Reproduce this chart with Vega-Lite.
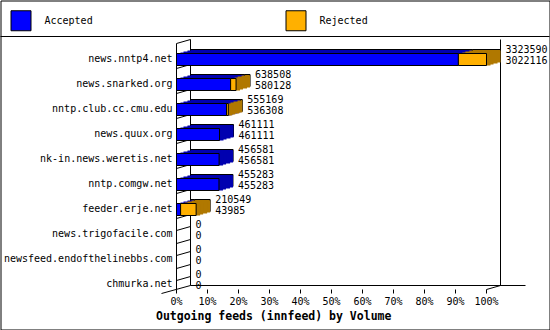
{
  "$schema": "https://vega.github.io/schema/vega-lite/v6.json",
  "width": 549,
  "height": 329,
  "autosize": {"type": "none"},
  "padding": {"left": 0.5, "top": 0.5, "right": 0.5, "bottom": 0.5},
  "background": "white",
  "config": {"font": "DejaVu Sans Mono", "view": {"stroke": "black", "strokeWidth": 1}},
  "resolve": {"axis": {"x": "independent", "y": "independent"}},
  "data": {
    "values": [
      {"host": "news.nntp4.net", "total": 3323590, "accepted": 3022116},
      {"host": "news.snarked.org", "total": 638508, "accepted": 580128},
      {"host": "nntp.club.cc.cmu.edu", "total": 555169, "accepted": 536308},
      {"host": "news.quux.org", "total": 461111, "accepted": 461111},
      {"host": "nk-in.news.weretis.net", "total": 456581, "accepted": 456581},
      {"host": "nntp.comgw.net", "total": 455283, "accepted": 455283},
      {"host": "feeder.erje.net", "total": 210549, "accepted": 43985},
      {"host": "news.trigofacile.com", "total": 0, "accepted": 0},
      {"host": "newsfeed.endofthelinebbs.com", "total": 0, "accepted": 0},
      {"host": "chmurka.net", "total": 0, "accepted": 0}
    ]
  },
  "layer": [
    {
      "mark": {"type": "rule", "color": "black", "strokeWidth": 1, "yOffset": -16, "y2Offset": -20, "x2Offset": 14},
      "encoding": {
        "x": {"datum": 0, "type": "quantitative", "axis": null},
        "x2": {"datum": 0},
        "y": {"field": "host", "type": "nominal", "axis": null},
        "y2": {"field": "host"}
      }
    },
    {
      "mark": {"type": "rule", "color": "black", "strokeWidth": 1, "yOffset": -4, "y2Offset": -8, "x2Offset": 14},
      "encoding": {
        "x": {"datum": 0, "type": "quantitative", "axis": null},
        "x2": {"datum": 0},
        "y": {"field": "host", "type": "nominal", "axis": null},
        "y2": {"field": "host"}
      }
    },
    {
      "data": {"values": [{}]},
      "mark": {"type": "rule", "color": "black", "strokeWidth": 1, "yOffset": -16, "y2Offset": 5},
      "encoding": {
        "x": {"datum": 0, "type": "quantitative", "axis": null},
        "y": {"datum": "news.nntp4.net", "type": "nominal", "axis": null},
        "y2": {"datum": "chmurka.net"}
      }
    },
    {
      "data": {"values": [{}]},
      "mark": {"type": "rule", "color": "black", "strokeWidth": 1, "xOffset": 14, "yOffset": -20, "y2Offset": 1},
      "encoding": {
        "x": {"datum": 0, "type": "quantitative", "axis": null},
        "y": {"datum": "news.nntp4.net", "type": "nominal", "axis": null},
        "y2": {"datum": "chmurka.net"}
      }
    },
    {
      "data": {"values": [{}]},
      "mark": {"type": "rule", "color": "black", "strokeWidth": 1, "xOffset": 14, "yOffset": -20, "y2Offset": 1},
      "encoding": {
        "x": {"datum": 3323590, "type": "quantitative", "axis": null},
        "y": {"datum": "news.nntp4.net", "type": "nominal", "axis": null},
        "y2": {"datum": "chmurka.net"}
      }
    },
    {
      "data": {"values": [{}]},
      "mark": {"type": "rule", "color": "black", "strokeWidth": 1, "xOffset": 14, "x2Offset": 39, "yOffset": 1},
      "encoding": {
        "x": {"datum": 0, "type": "quantitative", "axis": null},
        "x2": {"datum": 3323590},
        "y": {"datum": "chmurka.net", "type": "nominal", "axis": null}
      }
    },
    {
      "data": {"values": [{}]},
      "mark": {"type": "rule", "color": "black", "strokeWidth": 1, "xOffset": -15, "x2Offset": 14, "yOffset": 9, "y2Offset": 1},
      "encoding": {
        "x": {"datum": 0, "type": "quantitative", "axis": null},
        "x2": {"datum": 0},
        "y": {"datum": "chmurka.net", "type": "nominal", "axis": null},
        "y2": {"datum": "chmurka.net"}
      }
    },
    {
      "data": {"values": [{}]},
      "mark": {"type": "rule", "color": "black", "strokeWidth": 1, "x2Offset": 14, "yOffset": 5, "y2Offset": 1},
      "encoding": {
        "x": {"datum": 3323590, "type": "quantitative", "axis": null},
        "x2": {"datum": 3323590},
        "y": {"datum": "chmurka.net", "type": "nominal", "axis": null},
        "y2": {"datum": "chmurka.net"}
      }
    },
    {
      "data": {"values": [{}]},
      "mark": {"type": "rule", "color": "black", "strokeWidth": 1, "xOffset": -176, "x2Offset": 63, "yOffset": -23},
      "encoding": {
        "x": {"datum": 0, "type": "quantitative", "axis": null},
        "x2": {"datum": 3323590},
        "y": {"datum": "news.nntp4.net", "type": "nominal", "axis": null}
      }
    },
    {
      "transform": [{"filter": "datum.accepted > 0"}],
      "mark": {"type": "bar", "orient": "horizontal", "fill": "#0000b0", "stroke": "black", "strokeWidth": 1, "xOffset": 14, "x2Offset": 14, "yOffset": -4, "y2Offset": -4},
      "encoding": {
        "x": {"field": "accepted", "type": "quantitative", "axis": null},
        "x2": {"datum": 0},
        "y": {"field": "host", "type": "nominal", "axis": null}
      }
    },
    {
      "transform": [{"filter": "datum.accepted > 0"}],
      "mark": {"type": "bar", "orient": "horizontal", "fill": "#0000b0", "strokeWidth": 0, "xOffset": 14, "x2Offset": 11, "yOffset": -3, "y2Offset": -3},
      "encoding": {
        "x": {"field": "accepted", "type": "quantitative", "axis": null},
        "x2": {"datum": 0},
        "y": {"field": "host", "type": "nominal", "axis": null}
      }
    },
    {
      "transform": [{"filter": "datum.accepted > 0"}],
      "mark": {"type": "bar", "orient": "horizontal", "fill": "#0000b0", "strokeWidth": 0, "xOffset": 11, "x2Offset": 7, "yOffset": -2, "y2Offset": -2},
      "encoding": {
        "x": {"field": "accepted", "type": "quantitative", "axis": null},
        "x2": {"datum": 0},
        "y": {"field": "host", "type": "nominal", "axis": null}
      }
    },
    {
      "transform": [{"filter": "datum.accepted > 0"}],
      "mark": {"type": "bar", "orient": "horizontal", "fill": "#0000b0", "strokeWidth": 0, "xOffset": 7, "x2Offset": 4, "yOffset": -1, "y2Offset": -1},
      "encoding": {
        "x": {"field": "accepted", "type": "quantitative", "axis": null},
        "x2": {"datum": 0},
        "y": {"field": "host", "type": "nominal", "axis": null}
      }
    },
    {
      "transform": [{"filter": "datum.accepted > 0"}],
      "mark": {"type": "bar", "orient": "horizontal", "fill": "#0000b0", "strokeWidth": 0, "xOffset": 4, "x2Offset": 0},
      "encoding": {
        "x": {"field": "accepted", "type": "quantitative", "axis": null},
        "x2": {"datum": 0},
        "y": {"field": "host", "type": "nominal", "axis": null}
      }
    },
    {
      "transform": [{"filter": "datum.total > datum.accepted"}],
      "mark": {"type": "bar", "orient": "horizontal", "fill": "#b07800", "stroke": "black", "strokeWidth": 1, "xOffset": 14, "x2Offset": 14, "yOffset": -4, "y2Offset": -4},
      "encoding": {
        "x": {"field": "accepted", "type": "quantitative", "axis": null},
        "x2": {"field": "total"},
        "y": {"field": "host", "type": "nominal", "axis": null}
      }
    },
    {
      "transform": [{"filter": "datum.total > datum.accepted"}],
      "mark": {"type": "bar", "orient": "horizontal", "fill": "#b07800", "strokeWidth": 0, "xOffset": 11, "x2Offset": 14, "yOffset": -3, "y2Offset": -3},
      "encoding": {
        "x": {"field": "accepted", "type": "quantitative", "axis": null},
        "x2": {"field": "total"},
        "y": {"field": "host", "type": "nominal", "axis": null}
      }
    },
    {
      "transform": [{"filter": "datum.total > datum.accepted"}],
      "mark": {"type": "bar", "orient": "horizontal", "fill": "#b07800", "strokeWidth": 0, "xOffset": 7, "x2Offset": 11, "yOffset": -2, "y2Offset": -2},
      "encoding": {
        "x": {"field": "accepted", "type": "quantitative", "axis": null},
        "x2": {"field": "total"},
        "y": {"field": "host", "type": "nominal", "axis": null}
      }
    },
    {
      "transform": [{"filter": "datum.total > datum.accepted"}],
      "mark": {"type": "bar", "orient": "horizontal", "fill": "#b07800", "strokeWidth": 0, "xOffset": 4, "x2Offset": 7, "yOffset": -1, "y2Offset": -1},
      "encoding": {
        "x": {"field": "accepted", "type": "quantitative", "axis": null},
        "x2": {"field": "total"},
        "y": {"field": "host", "type": "nominal", "axis": null}
      }
    },
    {
      "transform": [{"filter": "datum.total > datum.accepted"}],
      "mark": {"type": "bar", "orient": "horizontal", "fill": "#b07800", "strokeWidth": 0, "xOffset": 0, "x2Offset": 4},
      "encoding": {
        "x": {"field": "accepted", "type": "quantitative", "axis": null},
        "x2": {"field": "total"},
        "y": {"field": "host", "type": "nominal", "axis": null}
      }
    },
    {
      "transform": [{"filter": "datum.accepted > 0"}],
      "mark": {"type": "bar", "orient": "horizontal", "stroke": "black", "strokeWidth": 1},
      "encoding": {
        "x": {
          "field": "accepted",
          "type": "quantitative",
          "scale": {"domain": [0, 3323590], "range": [176, 486], "nice": false, "zero": true},
          "axis": {
            "orient": "bottom",
            "offset": -40,
            "translate": 0,
            "domain": false,
            "grid": false,
            "ticks": true,
            "tickSize": 4,
            "tickColor": "black",
            "values": [0, 332359, 664718, 997077, 1329436, 1661795, 1994154, 2326513, 2658872, 2991231, 3323590],
            "labelExpr": "format(datum.value / 3323590, '.0%')",
            "labelFont": "DejaVu Sans Mono",
            "labelFontSize": 10,
            "labelColor": "black",
            "labelPadding": 3,
            "labelFlush": false,
            "labelOverlap": false,
            "title": "Outgoing feeds (innfeed) by Volume",
            "titleFont": "DejaVu Sans Mono",
            "titleFontSize": 11.5,
            "titleFontWeight": "bold",
            "titleColor": "black",
            "titleAlign": "left",
            "titleAnchor": "start",
            "titleBaseline": "middle",
            "titleX": 155.5,
            "titleY": 27.5
          }
        },
        "x2": {"datum": 0},
        "y": {
          "field": "host",
          "type": "nominal",
          "sort": null,
          "scale": {
            "type": "band",
            "domain": ["news.nntp4.net", "news.snarked.org", "nntp.club.cc.cmu.edu", "news.quux.org", "nk-in.news.weretis.net", "nntp.comgw.net", "feeder.erje.net", "news.trigofacile.com", "newsfeed.endofthelinebbs.com", "chmurka.net"],
            "range": [46.5, 296.5],
            "paddingInner": 0.52,
            "paddingOuter": 0.26
          },
          "axis": {
            "orient": "left",
            "offset": -176,
            "translate": 0,
            "domain": false,
            "ticks": false,
            "tickSize": 0,
            "grid": false,
            "labelPadding": 4,
            "labelFont": "DejaVu Sans Mono",
            "labelFontSize": 10,
            "labelColor": "black",
            "labelLimit": 300,
            "title": null
          }
        },
        "color": {
          "datum": "Accepted",
          "type": "nominal",
          "scale": {"domain": ["Accepted", "Rejected"], "range": ["#0000ff", "#ffb000"]},
          "legend": {
            "orient": "none",
            "legendX": 10,
            "legendY": 9.5,
            "direction": "horizontal",
            "title": null,
            "padding": 0,
            "symbolType": "square",
            "symbolSize": 400,
            "symbolStrokeColor": "black",
            "symbolStrokeWidth": 1,
            "symbolOpacity": 1,
            "labelFont": "DejaVu Sans Mono",
            "labelFontSize": 10,
            "labelColor": "black",
            "labelOffset": 13,
            "columnPadding": 190
          }
        }
      }
    },
    {
      "transform": [{"filter": "datum.total > datum.accepted"}],
      "mark": {"type": "bar", "orient": "horizontal", "stroke": "black", "strokeWidth": 1},
      "encoding": {
        "x": {"field": "accepted", "type": "quantitative", "axis": null},
        "x2": {"field": "total"},
        "y": {"field": "host", "type": "nominal", "axis": null},
        "color": {"datum": "Rejected", "type": "nominal"}
      }
    },
    {
      "mark": {"type": "text", "align": "left", "baseline": "middle", "dx": 19, "dy": -10, "font": "DejaVu Sans Mono", "fontSize": 10, "color": "black"},
      "encoding": {
        "x": {"field": "total", "type": "quantitative", "axis": null},
        "y": {"field": "host", "type": "nominal", "axis": null},
        "text": {"field": "total", "type": "quantitative", "format": "d"}
      }
    },
    {
      "mark": {"type": "text", "align": "left", "baseline": "middle", "dx": 19, "dy": 1, "font": "DejaVu Sans Mono", "fontSize": 10, "color": "black"},
      "encoding": {
        "x": {"field": "total", "type": "quantitative", "axis": null},
        "y": {"field": "host", "type": "nominal", "axis": null},
        "text": {"field": "accepted", "type": "quantitative", "format": "d"}
      }
    }
  ]
}
